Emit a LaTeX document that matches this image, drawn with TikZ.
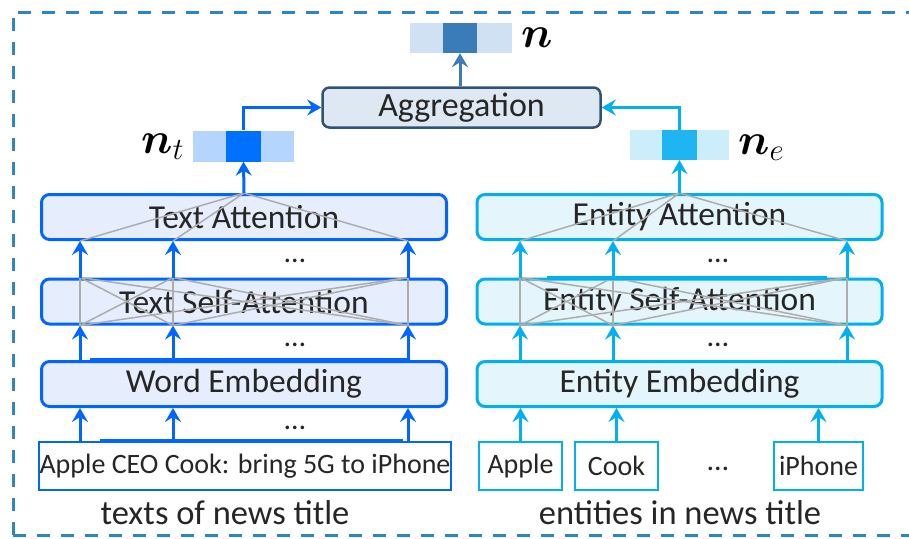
\RequirePackage{fix-cm}
\documentclass[tikz,border=0pt]{standalone}
\usepackage{amsmath}
\usepackage{fontspec}
\setmainfont{Carlito}
\usetikzlibrary{arrows.meta}

\definecolor{tblue}{RGB}{0,102,255}
\definecolor{tfill}{RGB}{230,238,253}
\definecolor{eblue}{RGB}{0,176,240}
\definecolor{efill}{RGB}{228,245,251}
\definecolor{aggfill}{RGB}{222,232,243}
\definecolor{aggline}{RGB}{47,82,117}
\definecolor{ntlight}{RGB}{180,214,254}
\definecolor{ntdark}{RGB}{0,112,255}
\definecolor{nelight}{RGB}{204,237,250}
\definecolor{nedark}{RGB}{30,181,240}
\definecolor{nlight}{RGB}{207,225,242}
\definecolor{ndark}{RGB}{58,123,186}
\definecolor{framecol}{RGB}{46,134,193}
\definecolor{txt}{RGB}{38,38,38}

\tikzset{
  layer/.style={draw, line width=3pt, rounded corners=8pt, minimum width=405pt,
    minimum height=45pt, inner sep=0pt, text=txt, font=\fontsize{33.5}{38}\selectfont},
  tlayer/.style={layer, draw=tblue, fill=tfill},
  elayer/.style={layer, draw=eblue, fill=efill},
  inbox/.style={draw, line width=2.5pt, fill=white, minimum height=48pt, inner sep=0pt,
    text=txt, font=\fontsize{28}{32}\selectfont},
  vcell/.style={inner sep=0pt, minimum height=31pt},
  vlabel/.style={inner sep=0pt, anchor=base west, font=\fontsize{44}{50}\selectfont},
  caption/.style={inner sep=0pt, text=txt, font=\fontsize{34.5}{40}\selectfont},
  dotsnode/.style={inner sep=0pt, anchor=base, text height=5pt, text depth=0pt,
    text=txt, font=\fontsize{30}{34}\selectfont},
  tarrow/.style={draw=tblue, line width=3pt, -{Stealth[length=14pt,width=16pt,inset=5pt]}},
  earrow/.style={draw=eblue, line width=3pt, -{Stealth[length=14pt,width=16pt,inset=5pt]}},
  narrow/.style={draw=ndark, line width=3pt, -{Stealth[length=14pt,width=16pt,inset=5pt]}},
  attline/.style={draw=black!32, line width=1.5pt},
  frame/.style={draw=framecol, line width=3pt, dash pattern=on 13pt off 11pt}
}

\begin{document}
\begin{tikzpicture}[x=1pt, y=-1pt]
\useasboundingbox (0,0) rectangle (909,538);

% outer frame
\draw[frame] (13,535) -- (13,12) -- (909,12);
\draw[frame] (13,535) -- (909,535);

% text side
\node[tlayer] (tatt) at (244,217) {Text Attention};
\node[tlayer] (tself) at (244,301.5) {Text Self-Attention};
\node[tlayer] (wemb) at (244,384) {Word Embedding};
\node[inbox, draw=tblue, minimum width=412pt] (tin) at (245,466) {Apple CEO Cook: bring 5G to iPhone};
\node[caption] (tcap) at (225,513) {texts of news title};

% entity side
\node[elayer] (eatt) at (679.5,217) {Entity Attention};
\node[elayer] (eself) at (679.5,301.5) {Entity Self-Attention};
\node[elayer] (eemb) at (679.5,384) {Entity Embedding};
\node[inbox, draw=eblue, minimum width=83pt] (apple) at (520.5,466) {Apple};
\node[inbox, draw=eblue, minimum width=83pt] (cook) at (616.5,466) {Cook};
\node[inbox, draw=eblue, minimum width=89pt] (iphone) at (818.5,466) {iPhone};
\node[caption] (ecap) at (680,513) {entities in news title};

% aggregation and vectors
\node[draw=aggline, fill=aggfill, line width=2.5pt, rounded corners=7pt, minimum width=278pt,
  minimum height=40pt, inner sep=0pt, text=txt, font=\fontsize{34}{38}\selectfont] (agg) at (461.5,107.5) {Aggregation};

\node[vcell, fill=ntlight, minimum width=33pt] (ntl) at (209.5,146) {};
\node[vcell, fill=ntdark, minimum width=35pt] (ntm) at (243.5,146) {};
\node[vcell, fill=ntlight, minimum width=33pt] (ntr) at (277.5,146) {};
\node[vlabel] (ntlab) at (141,153) {$\boldsymbol{n}_t$};

\node[vcell, fill=nelight, minimum width=32pt, minimum height=30pt] (nel) at (646,145) {};
\node[vcell, fill=nedark, minimum width=35pt, minimum height=30pt] (nem) at (679.5,145) {};
\node[vcell, fill=nelight, minimum width=32pt, minimum height=30pt] (ner) at (713,145) {};
\node[vlabel] (nelab) at (738,154) {$\boldsymbol{n}_e$};

\node[vcell, fill=nlight, minimum width=33pt, minimum height=30pt] (nl) at (426.5,38) {};
\node[vcell, fill=ndark, minimum width=34pt, minimum height=30pt] (nm) at (460,38) {};
\node[vcell, fill=nlight, minimum width=35pt, minimum height=30pt] (nr) at (494.5,38) {};
\node[vlabel] (nlab) at (521,47) {$\boldsymbol{n}$};

% column positions of the arrows
\coordinate (tx1) at (80,0);
\coordinate (tx2) at (173,0);
\coordinate (tx3) at (408,0);
\coordinate (ex1) at (520,0);
\coordinate (ex2) at (613,0);
\coordinate (ex3) at (847,0);

% attention lines
\foreach \a in {tx1,tx2,tx3} {
  \draw[attline] (\a |- tatt.south) -- (tatt.north);
  \foreach \b in {tx1,tx2,tx3}
    \draw[attline] (\a |- tself.south) -- (\b |- tself.north);
}
\foreach \a in {ex1,ex2,ex3} {
  \draw[attline] (\a |- eatt.south) -- (eatt.north);
  \foreach \b in {ex1,ex2,ex3}
    \draw[attline] (\a |- eself.south) -- (\b |- eself.north);
}

% thick edge pieces
\draw[tblue, line width=4pt] ([xshift=-154pt]wemb.north) -- ([xshift=166pt]wemb.north);
\draw[tblue, line width=3.5pt] ([xshift=-145pt]tin.north) -- ([xshift=158pt]tin.north);
\draw[eblue, line width=4pt] ([xshift=-132.5pt]eself.north) -- ([xshift=147.5pt]eself.north);

% text arrows
\draw[tarrow] (tx1 |- tself.north) -- (tx1 |- tatt.south);
\draw[tarrow] (tx2 |- tself.north) -- (tx2 |- tatt.south);
\draw[tarrow] (tx3 |- tself.north) -- (tx3 |- tatt.south);
\draw[tarrow] (tx1 |- wemb.north) -- (tx1 |- tself.south);
\draw[tarrow] (tx2 |- wemb.north) -- (tx2 |- tself.south);
\draw[tarrow] (tx3 |- wemb.north) -- (tx3 |- tself.south);
\draw[tarrow] (tx1 |- tin.north) -- (tx1 |- wemb.south);
\draw[tarrow] (tx2 |- tin.north) -- (tx2 |- wemb.south);
\draw[tarrow] (tx3 |- tin.north) -- (tx3 |- wemb.south);
\node[dotsnode] (tdots1) at (295,262) {\dots};
\node[dotsnode] (tdots2) at (295,346) {\dots};
\node[dotsnode] (tdots3) at (295,429) {\dots};

% entity arrows
\draw[earrow] (ex1 |- eself.north) -- (ex1 |- eatt.south);
\draw[earrow] (ex2 |- eself.north) -- (ex2 |- eatt.south);
\draw[earrow] (ex3 |- eself.north) -- (ex3 |- eatt.south);
\draw[earrow] (ex1 |- eemb.north) -- (ex1 |- eself.south);
\draw[earrow] (ex2 |- eemb.north) -- (ex2 |- eself.south);
\draw[earrow] (ex3 |- eemb.north) -- (ex3 |- eself.south);
\draw[earrow] (apple.north) -- (apple.north |- eemb.south);
\draw[earrow] (cook.north) -- (cook.north |- eemb.south);
\draw[earrow] (iphone.north) -- (iphone.north |- eemb.south);
\node[dotsnode] (edots1) at (718,262) {\dots};
\node[dotsnode] (edots2) at (718,346) {\dots};
\node[dotsnode] (edots3) at (718,470) {\dots};

% to the aggregation
\draw[tarrow] (tatt.north) -- (ntm.south);
\draw[tarrow] (ntm.north) |- (agg.west);
\draw[earrow] (eatt.north) -- (nem.south);
\draw[earrow] (nem.north) |- (agg.east);
\draw[narrow] (nm |- agg.north) -- (nm.south);
\end{tikzpicture}
\end{document}
